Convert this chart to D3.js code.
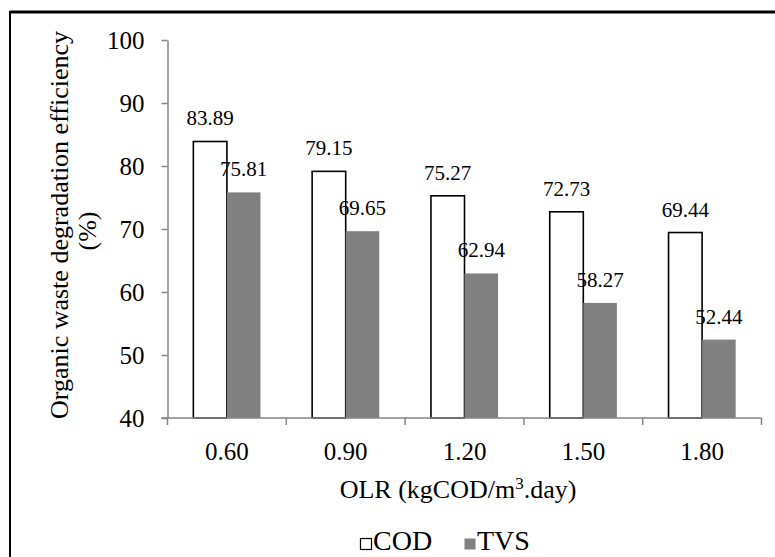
<!DOCTYPE html>
<html>
<head>
<meta charset="utf-8">
<script src="https://cdn.jsdelivr.net/npm/d3@7/dist/d3.min.js"></script>
<style>
  html, body { margin: 0; padding: 0; background: #fff; }
  svg { display: block; font-family: "Liberation Serif", "Times New Roman", serif; }
</style>
</head>
<body>
<svg id="chart" width="775" height="557"></svg>
<script>
// OLR loading rates and degradation efficiencies
const categories = ["0.60", "0.90", "1.20", "1.50", "1.80"];
const series = ["COD", "TVS"];
const codValues = [83.89, 79.15, 75.27, 72.73, 69.44];
const tvsValues = [75.81, 69.65, 62.94, 58.27, 52.44];
const yTicks = [40, 50, 60, 70, 80, 90, 100];

const svg = d3.select("#chart");
const W = 775, H = 557;
const plot = { left: 167.5, right: 761.5, top: 40, bottom: 418 };
const serif = "Liberation Serif, Times New Roman, serif";

// outer frame (top and left edges)
svg.append("line").attr("x1", 10).attr("x2", W).attr("y1", 12).attr("y2", 12)
  .attr("stroke", "#000").attr("stroke-width", 3);
svg.append("line").attr("x1", 10).attr("x2", 10).attr("y1", 11).attr("y2", H)
  .attr("stroke", "#000").attr("stroke-width", 2);

const y = d3.scaleLinear().domain([40, 100]).range([plot.bottom, plot.top]);
const x0 = d3.scaleBand().domain(categories).range([plot.left, plot.right]).paddingInner(0).paddingOuter(0);
const x1 = d3.scaleBand().domain(series).range([0, x0.bandwidth()]).paddingInner(0).paddingOuter(0.77);

const rows = categories.map((c, i) => ({ cat: c, COD: codValues[i], TVS: tvsValues[i] }));

// y axis
const yAxis = d3.axisLeft(y).tickValues(yTicks).tickSize(6).tickSizeOuter(0).tickPadding(17);
const gy = svg.append("g").attr("transform", `translate(${plot.left},0)`).call(yAxis)
  .attr("font-family", serif);
gy.select(".domain").attr("stroke", "#868686").attr("stroke-width", 1.5);
gy.selectAll(".tick line").attr("stroke", "#868686").attr("stroke-width", 1.5);
gy.selectAll(".tick text").attr("font-size", 25).attr("fill", "#000");

// bars
const groups = svg.append("g").selectAll("g").data(rows).join("g")
  .attr("transform", d => `translate(${x0(d.cat)},0)`);

groups.append("rect")
  .attr("x", x1("COD")).attr("width", x1.bandwidth())
  .attr("y", d => y(d.COD)).attr("height", d => y(40) - y(d.COD))
  .attr("fill", "#fff").attr("stroke", "#000").attr("stroke-width", 1.6);

groups.append("rect")
  .attr("x", x1("TVS")).attr("width", x1.bandwidth())
  .attr("y", d => y(d.TVS)).attr("height", d => y(40) - y(d.TVS))
  .attr("fill", "#808080");

// value labels
groups.append("text")
  .attr("x", x1("COD") + x1.bandwidth() / 2).attr("y", d => y(d.COD) - 16)
  .attr("text-anchor", "middle").attr("font-size", 21).text(d => d.COD.toFixed(2));
groups.append("text")
  .attr("x", x1("TVS") + x1.bandwidth() / 2).attr("y", d => y(d.TVS) - 16)
  .attr("text-anchor", "middle").attr("font-size", 21).text(d => d.TVS.toFixed(2));

// x axis with ticks between categories
const xAxisG = svg.append("g").attr("transform", `translate(0,${plot.bottom})`);
xAxisG.append("line").attr("x1", plot.left - 6).attr("x2", plot.right)
  .attr("stroke", "#868686").attr("stroke-width", 1.5);
const edges = categories.map(c => x0(c)).concat([x0(categories[categories.length - 1]) + x0.bandwidth()]);
xAxisG.selectAll("line.tk").data(edges).join("line").attr("class", "tk")
  .attr("x1", d => d).attr("x2", d => d).attr("y1", 0).attr("y2", 7)
  .attr("stroke", "#868686").attr("stroke-width", 1.5);
xAxisG.selectAll("text").data(categories).join("text")
  .attr("x", c => x0(c) + x0.bandwidth() / 2).attr("y", 42)
  .attr("text-anchor", "middle").attr("font-size", 25).text(c => c);

// axis titles
const xt = svg.append("text").attr("x", 458).attr("y", 498)
  .attr("text-anchor", "middle").attr("font-size", 26);
xt.append("tspan").text("OLR (kgCOD/m");
xt.append("tspan").attr("baseline-shift", "super").attr("font-size", 17).text("3");
xt.append("tspan").text(".day)");

const yt = svg.append("text").attr("transform", "translate(68,225) rotate(-90)")
  .attr("text-anchor", "middle").attr("font-size", 26);
yt.append("tspan").attr("x", 0).attr("y", 0).text("Organic waste degradation efficiency");
yt.append("tspan").attr("x", -6).attr("y", 28).text("(%)");

// legend
const legend = svg.append("g");
const legItems = [
  { name: series[0], x: 360, fill: "#fff", stroke: "#000" },
  { name: series[1], x: 464, fill: "#808080", stroke: "none" }
];
legItems.forEach(it => {
  legend.append("rect").attr("x", it.x + 0.5).attr("y", 538.5).attr("width", 11).attr("height", 11)
    .attr("fill", it.fill).attr("stroke", it.stroke).attr("stroke-width", 1.2);
  legend.append("text").attr("x", it.x + 13).attr("y", 550).attr("font-size", 28).text(it.name);
});
</script>
</body>
</html>
